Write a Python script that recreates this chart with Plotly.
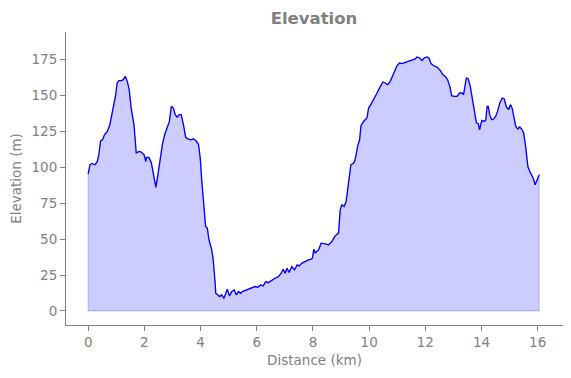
import plotly.graph_objects as go

distance_km = [
    0.00, 0.06, 0.14, 0.24, 0.32, 0.38, 0.44, 0.51, 0.58, 0.68, 0.77, 0.89, 0.98, 1.03, 1.09, 1.18,
    1.25, 1.32, 1.39, 1.46, 1.53, 1.63, 1.71, 1.81, 1.89, 1.99, 2.05, 2.08, 2.16, 2.25, 2.34, 2.41,
    2.48, 2.56, 2.64, 2.72, 2.82, 2.89, 2.96, 3.03, 3.10, 3.17, 3.24, 3.31, 3.39, 3.47, 3.55, 3.65,
    3.74, 3.84, 3.93, 3.99, 4.04, 4.11, 4.18, 4.24, 4.30, 4.40, 4.45, 4.52, 4.54, 4.61, 4.68, 4.75,
    4.83, 4.90, 4.95, 5.03, 5.11, 5.20, 5.27, 5.35, 5.42, 5.49, 5.58, 5.70, 5.82, 5.94, 6.04, 6.13,
    6.23, 6.32, 6.41, 6.54, 6.65, 6.77, 6.87, 6.94, 7.01, 7.08, 7.15, 7.25, 7.34, 7.44, 7.51, 7.61,
    7.72, 7.84, 7.94, 7.98, 8.03, 8.08, 8.20, 8.29, 8.44, 8.55, 8.67, 8.79, 8.91, 8.97, 9.03, 9.11,
    9.18, 9.27, 9.35, 9.45, 9.50, 9.59, 9.66, 9.71, 9.80, 9.92, 9.98, 10.06, 10.16, 10.28, 10.40,
    10.49, 10.57, 10.66, 10.75, 10.87, 10.99, 11.08, 11.17, 11.29, 11.40, 11.52, 11.64, 11.70, 11.80,
    11.88, 11.96, 12.06, 12.13, 12.20, 12.30, 12.42, 12.53, 12.62, 12.71, 12.79, 12.87, 12.94, 13.03,
    13.13, 13.22, 13.31, 13.36, 13.41, 13.46, 13.53, 13.60, 13.67, 13.74, 13.82, 13.89, 13.93, 14.01,
    14.08, 14.15, 14.20, 14.24, 14.29, 14.36, 14.43, 14.50, 14.57, 14.65, 14.74, 14.81, 14.88, 14.96,
    15.03, 15.09, 15.15, 15.22, 15.29, 15.36, 15.43, 15.50, 15.57, 15.65, 15.72, 15.77, 15.84, 15.91,
    15.98, 16.05,
]
elevation_m = [
    95.3, 101.8, 102.7, 101.8, 104.0, 108.8, 118.5, 119.2, 122.7, 125.0, 129.7, 141.3, 150.6, 158.8, 160.4, 160.4,
    161.1, 163.4, 159.9, 154.1, 141.3, 129.7, 110.0, 111.1, 110.7, 108.8, 104.1, 106.9, 106.9, 103.0, 94.8, 86.0,
    94.8, 106.5, 115.8, 122.7, 127.4, 132.0, 142.5, 141.3, 136.7, 135.0, 136.7, 136.7, 129.7, 120.9, 119.9, 119.2,
    119.9, 118.5, 115.8, 106.0, 91.4, 72.7, 58.8, 57.7, 49.5, 42.5, 35.6, 19.3, 12.3, 11.2, 10.0, 11.2,
    8.8, 12.3, 15.1, 10.5, 13.5, 14.6, 11.2, 13.5, 12.3, 13.5, 14.2, 15.1, 15.8, 17.0, 16.5, 18.1,
    17.4, 20.4, 19.7, 21.6, 22.8, 23.9, 26.3, 29.1, 26.3, 29.8, 26.7, 30.9, 28.6, 32.1, 31.4, 33.3,
    34.4, 35.6, 36.0, 36.8, 43.0, 40.5, 42.5, 47.2, 46.7, 46.0, 48.3, 52.3, 54.2, 70.4, 73.9, 72.7,
    76.2, 89.0, 101.8, 103.0, 105.3, 114.6, 119.2, 129.0, 132.0, 134.4, 141.3, 143.7, 147.1, 151.8, 156.4,
    159.5, 158.8, 157.6, 159.9, 165.3, 170.8, 172.7, 172.3, 173.2, 173.9, 175.0, 175.5, 176.9, 176.2,
    174.5, 176.2, 176.9, 176.2, 172.3, 170.8, 169.9, 167.6, 164.6, 163.4, 161.1, 156.4, 149.9, 149.4,
    149.4, 151.8, 151.8, 150.6, 156.4, 162.3, 161.6, 156.4, 148.3, 140.2, 130.9, 130.4, 126.2, 132.7,
    132.0, 132.7, 142.5, 142.5, 136.7, 133.2, 133.7, 135.5, 139.0, 144.8, 148.3, 147.6, 142.5, 140.2,
    143.7, 141.3, 134.4, 128.5, 126.7, 128.1, 126.7, 123.9, 114.6, 100.6, 97.1, 94.8, 92.5, 87.9,
    91.4, 94.8,
]
x_ticks = [0, 2, 4, 6, 8, 10, 12, 14, 16]
y_ticks = [0, 25, 50, 75, 100, 125, 150, 175]

GRAY = "#808080"
FONT = "DejaVu Sans"

fig = go.Figure()
# filled area (closed polygon down to zero, with a faint edge)
fig.add_trace(go.Scatter(
    x=[distance_km[0]] + distance_km + [distance_km[-1], distance_km[0]],
    y=[0] + elevation_m + [0, 0],
    fill="toself", fillcolor="rgba(0,0,255,0.2)",
    line=dict(color="rgba(0,0,255,0.2)", width=1.2),
    mode="lines", hoverinfo="skip", showlegend=False,
))
fig.add_trace(go.Scatter(
    x=distance_km, y=elevation_m, mode="lines",
    line=dict(color="#0000ff", width=1.3), showlegend=False,
))

# the page body has an 8px margin, so the figure is sized to end at the window edge
fig.update_layout(
    width=563, height=370,
    margin=dict(l=58, r=8, t=24, b=53, autoexpand=False),
    paper_bgcolor="white", plot_bgcolor="white",
    font=dict(family=FONT, size=13.5, color=GRAY),
    title=dict(text="<b>Elevation</b>", x=306 / 563, xanchor="center",
               y=1 - 10 / 370, yanchor="middle", yref="container",
               font=dict(family=FONT, size=16.5, color=GRAY)),
    xaxis=dict(range=[-0.79, 16.9], tickvals=x_ticks, showgrid=False, zeroline=False,
               showline=True, linecolor=GRAY, linewidth=1.1, ticks="outside",
               ticklen=5, tickwidth=1.1, tickcolor=GRAY, automargin=False,
               title=dict(text="Distance (km)", standoff=6, font=dict(size=13.5, color=GRAY))),
    yaxis=dict(range=[-9.8, 194.3], tickvals=y_ticks, showgrid=False, zeroline=False,
               showline=True, linecolor=GRAY, linewidth=1.1, ticks="outside",
               ticklen=5, tickwidth=1.1, tickcolor=GRAY, automargin=False,
               title=dict(text="Elevation (m)", standoff=6, font=dict(size=13.5, color=GRAY))),
)

fig.write_html("out.html")
